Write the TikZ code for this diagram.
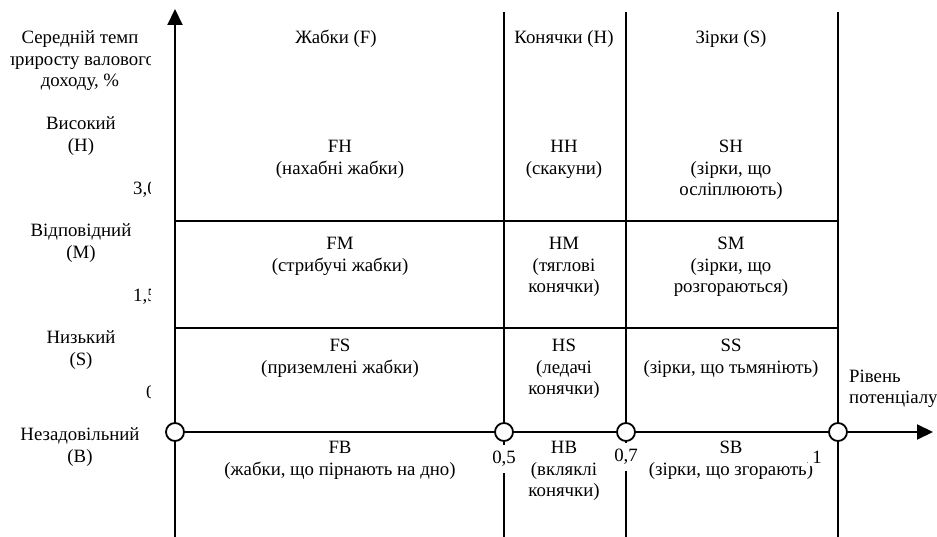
\documentclass[tikz,border=0pt]{standalone}
\usepackage{fontspec}
\setmainfont{Liberation Serif}
\usetikzlibrary{arrows.meta,positioning}
\tikzset{
    axis/.style={
        line width=2pt,
        -{Triangle[length=16pt,width=15pt]},
    },
    grid/.style={
        line width=1.8pt,
    },
    point/.style={
        circle,
        draw=black,
        line width=1.8pt,
        fill=white,
        minimum size=18pt,
        inner sep=0pt,
    },
    cell/.style={
        align=center,
        inner sep=0pt,
        anchor=north,
    },
    level/.style={
        align=center,
        inner sep=0pt,
    },
    tick/.style={
        fill=white,
        inner xsep=2pt,
        inner ysep=6pt,
    },
}

\begin{document}
\begin{tikzpicture}[x=1pt,y=-1pt,font=\fontsize{18.8}{21.5}\selectfont]
    \useasboundingbox (0,0) rectangle (937,537);
    % frame points
    \coordinate (ybot) at (175,537);
    \coordinate (ytop) at (175,9);
    \coordinate (xend) at (933,432);
    \coordinate (t5) at (504,12);
    \coordinate (b5) at (504,537);
    \coordinate (t7) at (626,12);
    \coordinate (b7) at (626,537);
    \coordinate (t1) at (838,12);
    \coordinate (b1) at (838,537);
    \coordinate (lm) at (175,221);
    \coordinate (rm) at (838,221);
    \coordinate (ls) at (175,328);
    \coordinate (rs) at (838,328);

    \draw[grid] (t5) -- (b5);
    \draw[grid] (t7) -- (b7);
    \draw[grid] (t1) -- (b1);
    \draw[grid] (lm) -- (rm);
    \draw[grid] (ls) -- (rs);
    \draw[axis] (ybot) -- (ytop);
    \draw[axis] (175,432) -- (xend);

    % column heads
    \node (hF) at (336,39) {Жабки (F)};
    \node (hH) at (564,39) {Конячки (H)};
    \node (hS) at (731,39) {Зірки (S)};

    % cells
    \node[cell] (FH) at (340,140) {FH\\(нахабні жабки)};
    \node[cell] (HH) at (564,140) {HH\\(скакуни)};
    \node[cell] (SH) at (731,140) {SH\\(зірки, що\\осліплюють)};
    \node[cell] (FM) at (340,237) {FM\\(стрибучі жабки)};
    \node[cell] (HM) at (564,237) {HM\\(тяглові\\конячки)};
    \node[cell] (SM) at (731,237) {SM\\(зірки, що\\розгораються)};
    \node[cell] (FS) at (340,339) {FS\\(приземлені жабки)};
    \node[cell] (HS) at (564,339) {HS\\(ледачі\\конячки)};
    \node[cell] (SS) at (731,339) {SS\\(зірки, що тьмяніють)};
    \node[cell] (FB) at (340,441) {FB\\(жабки, що пірнають на дно)};
    \node[cell] (HB) at (564,441) {HB\\(вкляклі\\конячки)};
    \node[cell] (SB) at (731,441) {SB\\(зірки, що згорають)};

    % axis labels
    \begin{scope}
        \clip (10,0) rectangle (150,537);
        \node[level] (ytitle) at (80,61) {Середній темп\\приросту валового\\доходу, \%};
        \node[level] (high) at (81,136) {Високий\\(H)};
        \node[level, anchor=west] (v30) at (133,190) {3,0};
        \node[level] (mid) at (81,243) {Відповідний\\(M)};
        \node[level, anchor=west] (v15) at (133,297) {1,5};
        \node[level] (low) at (81,350) {Низький\\(S)};
        \node[level, anchor=west] (v0) at (146,392) {0};
        \node[level] (bad) at (80,447) {Незадовільний\\(B)};
    \end{scope}
    \node[level, align=left, anchor=west] (xtitle) at (849,389) {Рівень\\потенціалу};

    \node[tick] (n05) at (504,459) {0,5};
    \node[tick] (n07) at (626,457) {0,7};
    \node[tick, inner xsep=4.5pt, inner ysep=3pt] (n1) at (817,457) {1};

    % scale points
    \node[point] (o0) at (175,432) {};
    \node[point] (o5) at (504,432) {};
    \node[point] (o7) at (626,432) {};
    \node[point] (o1) at (838,432) {};
\end{tikzpicture}
\end{document}
